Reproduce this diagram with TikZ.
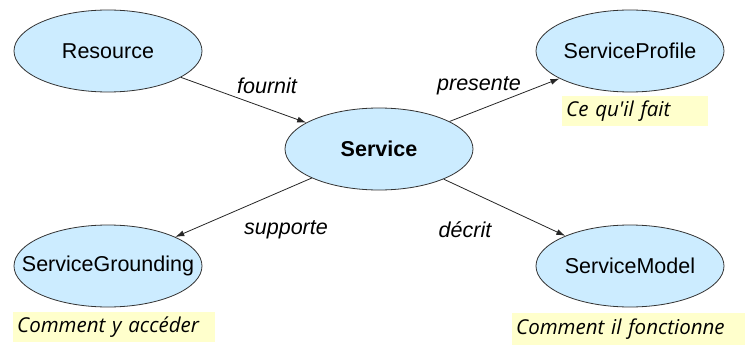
\documentclass[tikz,border=0pt]{standalone}
\usepackage{fontspec}
\setmainfont{Liberation Sans}
\newfontfamily\notefont{Open Sans}
\usetikzlibrary{shapes.geometric,arrows.meta}
\definecolor{ellblue}{HTML}{CCECFF}
\definecolor{noteyellow}{HTML}{FFFFCC}
\newcommand{\zw}[1]{\makebox[0pt]{#1}}
\tikzset{
  concept/.style={ellipse, draw=black!80, line width=0.8pt, fill=ellblue,
    minimum width=188pt, minimum height=82pt, inner sep=0pt,
    font=\fontsize{21.5}{24}\selectfont},
  rel/.style={font=\fontsize{21.5}{24}\selectfont\itshape, inner sep=0pt},
  note/.style={fill=noteyellow, inner xsep=4pt, inner ysep=0pt, align=left,
    font=\notefont\fontsize{20.5}{24}\selectfont\itshape, anchor=west},
  arr/.style={draw=black!85, line width=0.8pt, -{Latex[length=9pt,width=6pt]}}
}
\begin{document}
\begin{tikzpicture}[x=1pt,y=-1pt]
\useasboundingbox (0,0) rectangle (745,345);
\node[concept] (res) at (108,51) {\zw{Resource}};
\node[concept, font=\fontsize{21.5}{24}\selectfont\bfseries] (svc) at (379,149) {\zw{Service}};
\node[concept] (prof) at (630,51) {\zw{ServiceProfile}};
\node[concept] (gnd) at (108,266) {\zw{ServiceGrounding}};
\node[concept] (mod) at (630,266) {\zw{ServiceModel}};

\node[note, minimum width=146pt, minimum height=30pt, text width=138pt] (n1) at (562,111) {Ce qu'il fait};
\node[note, minimum width=202pt, minimum height=30pt, text width=194pt] (n2) at (13,327) {Comment y accéder};
\node[note, minimum width=233pt, minimum height=32pt, text width=225pt] (n3) at (512,329) {Comment il fonctionne};

\draw[arr] (res) -- (svc);
\draw[arr] (svc) -- (prof);
\draw[arr] (svc) -- (gnd);
\draw[arr] (svc) -- (mod);

\node[rel] (l1) at (267,86) {fournit};
\node[rel] (l2) at (479,86) {presente};
\node[rel] (l3) at (286,230) {supporte};
\node[rel] (l4) at (465,230) {décrit};
\end{tikzpicture}
\end{document}
